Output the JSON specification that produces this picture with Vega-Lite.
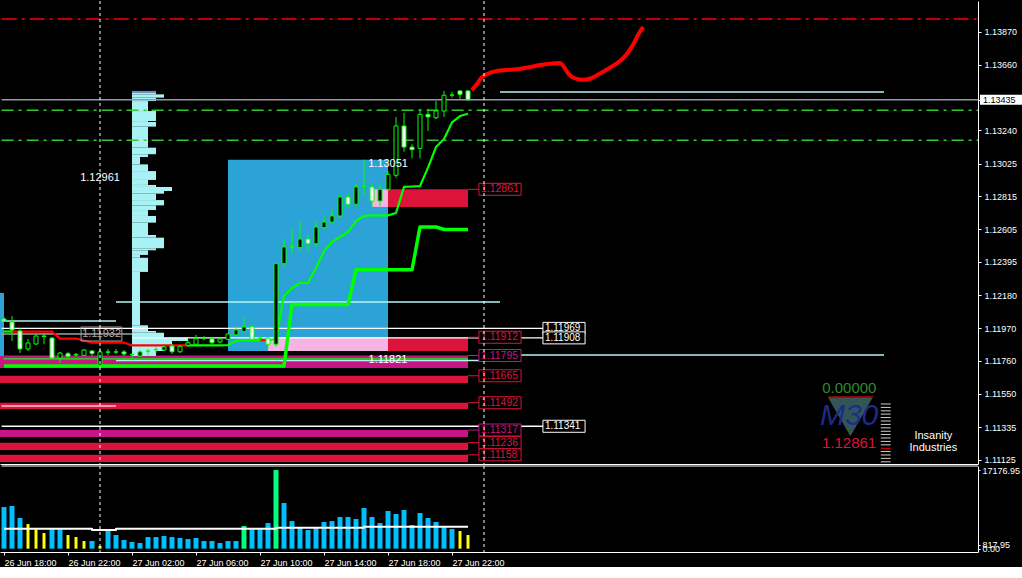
{
"$schema": "https://vega.github.io/schema/vega-lite/v6.json",
"background": "#000000",
"padding": 0,
"config": {"view": {"stroke": null}, "font": "Liberation Sans", "axis": {"grid": false}},
"spacing": 2,
"bounds": "flush",
"resolve": {"scale": {"color": "independent", "stroke": "independent", "strokeDash": "independent", "strokeWidth": "independent", "size": "independent", "fill": "independent"}},
"vconcat": [
{
"width": 978, "height": 463,
"resolve": {"scale": {"color": "independent", "stroke": "independent", "strokeDash": "independent", "strokeWidth": "independent", "size": "independent", "fill": "independent"}, "axis": {"x": "independent", "y": "independent"}},
"layer": [
{
"data": {"values": [
{"t":"2019-06-26T17:45","t2":"2019-06-26T18:00","p":1.12196,"p2":1.11798,"k":"box"},
{"t":"2019-06-26T17:45","t2":"2019-06-26T18:00","p":1.11798,"p2":1.11753,"k":"tan"},
{"t":"2019-06-27T08:00","t2":"2019-06-27T18:00","p":1.13051,"p2":1.11824,"k":"box"},
{"t":"2019-06-27T17:00","t2":"2019-06-27T18:00","p":1.12861,"p2":1.12748,"k":"pink"},
{"t":"2019-06-27T18:00","t2":"2019-06-27T23:00","p":1.12861,"p2":1.12748,"k":"supply"},
{"t":"2019-06-27T10:30","t2":"2019-06-27T18:00","p":1.11912,"p2":1.11824,"k":"pink"},
{"t":"2019-06-27T18:00","t2":"2019-06-27T23:00","p":1.11912,"p2":1.11824,"k":"supply"},
{"t":"2019-06-26T17:45","t2":"2019-06-27T23:00","p":1.11795,"p2":1.11715,"k":"demand"},
{"t":"2019-06-26T17:45","t2":"2019-06-27T23:00","p":1.11665,"p2":1.11619,"k":"supply"},
{"t":"2019-06-26T17:45","t2":"2019-06-27T23:00","p":1.11492,"p2":1.11452,"k":"supply"},
{"t":"2019-06-26T17:45","t2":"2019-06-27T23:00","p":1.11317,"p2":1.11272,"k":"demand"},
{"t":"2019-06-26T17:45","t2":"2019-06-27T23:00","p":1.11236,"p2":1.11189,"k":"supply"},
{"t":"2019-06-26T17:45","t2":"2019-06-27T23:00","p":1.11158,"p2":1.11112,"k":"supply"}
], "format": {"parse": {"t":"date","t2":"date"}}},
"mark": {"type": "rect"},
"encoding": {
"x": {"field":"t","type":"temporal","title":null,"scale":{"type":"time","nice":false,"padding":0,"domain":[{"year":2019,"month":6,"date":26,"hours":17,"minutes":45},{"year":2019,"month":6,"date":29,"hours":6,"minutes":52,"seconds":30}]},"axis":{"orient":"bottom","labels":false,"ticks":false,"domain":true,"domainColor":"#ffffff","grid":false,"title":null}},
"x2": {"field":"t2","title":null},
"y": {"field":"p","type":"quantitative","title":null,"scale":{"domain":[1.110991,1.140688],"zero":false,"nice":false,"padding":0},"axis":{"orient":"right","values":[1.11125,1.11335,1.1155,1.1176,1.1197,1.1218,1.12395,1.12605,1.12815,1.13025,1.1324,1.13435,1.1366,1.1387],"labelExpr":"datum.value === 1.13435 ? '' : format(datum.value, '.5f')","domainColor":"#ffffff","tickColor":"#ffffff","tickSize":3,"labelColor":"#ffffff","labelFont":"Liberation Sans","labelFontSize":9,"labelPadding":3,"labelOverlap":false,"grid":false,"title":null}},
"y2": {"field":"p2","title":null},
"color": {"field":"k","type":"nominal","scale":{"domain":["box","tan","pink","supply","demand"],"range":["#2ba3d6","#e3a35f","#f5b4e4","#dc143c","#c71585"]},"legend":null}
}
},
{
"data": {"values": [
{"t":"2019-06-27T02:00","t2":"2019-06-27T03:30","p":1.13492,"p2":1.13481,"k":"edge"},
{"t":"2019-06-27T02:00","t2":"2019-06-27T03:30","p":1.13481,"p2":1.13470,"k":"body"},
{"t":"2019-06-27T02:00","t2":"2019-06-27T04:00","p":1.13470,"p2":1.13449,"k":"body"},
{"t":"2019-06-27T02:00","t2":"2019-06-27T03:30","p":1.13449,"p2":1.13427,"k":"body"},
{"t":"2019-06-27T02:00","t2":"2019-06-27T03:00","p":1.13427,"p2":1.13363,"k":"body"},
{"t":"2019-06-27T02:00","t2":"2019-06-27T03:30","p":1.13363,"p2":1.13299,"k":"body"},
{"t":"2019-06-27T02:00","t2":"2019-06-27T03:00","p":1.13299,"p2":1.13293,"k":"body"},
{"t":"2019-06-27T02:00","t2":"2019-06-27T03:30","p":1.13293,"p2":1.13263,"k":"body"},
{"t":"2019-06-27T02:00","t2":"2019-06-27T03:00","p":1.13263,"p2":1.13128,"k":"body"},
{"t":"2019-06-27T02:00","t2":"2019-06-27T03:30","p":1.13128,"p2":1.13086,"k":"body"},
{"t":"2019-06-27T02:00","t2":"2019-06-27T03:00","p":1.13086,"p2":1.13068,"k":"body"},
{"t":"2019-06-27T02:00","t2":"2019-06-27T02:30","p":1.13068,"p2":1.13021,"k":"body"},
{"t":"2019-06-27T02:00","t2":"2019-06-27T03:00","p":1.13021,"p2":1.12978,"k":"body"},
{"t":"2019-06-27T02:00","t2":"2019-06-27T03:30","p":1.12978,"p2":1.12921,"k":"body"},
{"t":"2019-06-27T02:00","t2":"2019-06-27T03:00","p":1.12921,"p2":1.12889,"k":"body"},
{"t":"2019-06-27T02:00","t2":"2019-06-27T03:30","p":1.12889,"p2":1.12876,"k":"body"},
{"t":"2019-06-27T02:00","t2":"2019-06-27T04:30","p":1.12876,"p2":1.12850,"k":"body"},
{"t":"2019-06-27T02:00","t2":"2019-06-27T04:00","p":1.12850,"p2":1.12833,"k":"body"},
{"t":"2019-06-27T02:00","t2":"2019-06-27T03:30","p":1.12833,"p2":1.12792,"k":"body"},
{"t":"2019-06-27T02:00","t2":"2019-06-27T04:00","p":1.12792,"p2":1.12758,"k":"body"},
{"t":"2019-06-27T02:00","t2":"2019-06-27T03:30","p":1.12758,"p2":1.12728,"k":"body"},
{"t":"2019-06-27T02:00","t2":"2019-06-27T03:00","p":1.12728,"p2":1.12690,"k":"body"},
{"t":"2019-06-27T02:00","t2":"2019-06-27T03:30","p":1.12690,"p2":1.12647,"k":"body"},
{"t":"2019-06-27T02:00","t2":"2019-06-27T03:00","p":1.12647,"p2":1.12568,"k":"body"},
{"t":"2019-06-27T02:00","t2":"2019-06-27T03:30","p":1.12568,"p2":1.12551,"k":"body"},
{"t":"2019-06-27T02:00","t2":"2019-06-27T04:00","p":1.12551,"p2":1.12483,"k":"body"},
{"t":"2019-06-27T02:00","t2":"2019-06-27T03:30","p":1.12483,"p2":1.12470,"k":"body"},
{"t":"2019-06-27T02:00","t2":"2019-06-27T03:00","p":1.12470,"p2":1.12440,"k":"body"},
{"t":"2019-06-27T02:00","t2":"2019-06-27T02:30","p":1.12440,"p2":1.12422,"k":"body"},
{"t":"2019-06-27T02:00","t2":"2019-06-27T03:00","p":1.12422,"p2":1.12331,"k":"body"},
{"t":"2019-06-27T02:00","t2":"2019-06-27T02:30","p":1.12331,"p2":1.11989,"k":"body"},
{"t":"2019-06-27T02:00","t2":"2019-06-27T03:00","p":1.11989,"p2":1.11952,"k":"body"},
{"t":"2019-06-27T02:00","t2":"2019-06-27T03:30","p":1.11952,"p2":1.11941,"k":"body"},
{"t":"2019-06-27T02:00","t2":"2019-06-27T04:00","p":1.11941,"p2":1.11909,"k":"body"},
{"t":"2019-06-27T02:00","t2":"2019-06-27T05:30","p":1.11909,"p2":1.11888,"k":"body"},
{"t":"2019-06-27T02:00","t2":"2019-06-27T04:30","p":1.11888,"p2":1.11856,"k":"body"},
{"t":"2019-06-27T02:00","t2":"2019-06-27T04:00","p":1.11856,"p2":1.11824,"k":"body"},
{"t":"2019-06-27T02:00","t2":"2019-06-27T03:30","p":1.11824,"p2":1.11792,"k":"body"}
], "format": {"parse": {"t":"date","t2":"date"}}},
"mark": {"type": "rect"},
"encoding": {
"x": {"field":"t","type":"temporal","axis":null},
"x2": {"field":"t2"},
"y": {"field":"p","type":"quantitative","axis":null},
"y2": {"field":"p2"},
"color": {"field":"k","type":"nominal","scale":{"domain":["edge","body"],"range":["#5f8fe8","#a8f2f5"]},"legend":null}
}
},
{
"data": {"values": [
{"t":"2019-06-26T17:51","t2":"2019-06-29T06:52:30","p":1.13953,"k":"reddd"},
{"t":"2019-06-26T17:51","t2":"2019-06-29T06:52:30","p":1.13368,"k":"greendd"},
{"t":"2019-06-26T17:51","t2":"2019-06-29T06:52:30","p":1.13175,"k":"greendd"},
{"t":"2019-06-26T17:51","t2":"2019-06-29T06:52:30","p":1.13435,"k":"price"},
{"t":"2019-06-28T01:00","t2":"2019-06-29T01:00","p":1.13485,"k":"cyan"},
{"t":"2019-06-27T01:00","t2":"2019-06-28T01:00","p":1.12138,"k":"cyan"},
{"t":"2019-06-27T01:00","t2":"2019-06-28T01:00","p":1.11763,"k":"cyan"},
{"t":"2019-06-28T00:00","t2":"2019-06-29T01:00","p":1.11798,"k":"cyan"},
{"t":"2019-06-26T17:51","t2":"2019-06-27T01:00","p":1.12016,"k":"cyan"},
{"t":"2019-06-26T17:51","t2":"2019-06-28T03:41","p":1.11969,"k":"white"},
{"t":"2019-06-27T02:00","t2":"2019-06-28T03:41","p":1.11908,"k":"white"},
{"t":"2019-06-26T17:51","t2":"2019-06-28T03:41","p":1.11341,"k":"white"},
{"t":"2019-06-26T17:51","t2":"2019-06-27T02:00","p":1.11933,"k":"grey"},
{"t":"2019-06-26T17:51","t2":"2019-06-27T01:00","p":1.11471,"k":"pinkish"},
{"t":"2019-06-26T17:57","t2":"2019-06-27T23:00","p":1.11773,"k":"greenflat"}
], "format": {"parse": {"t":"date","t2":"date"}}},
"mark": {"type": "rule"},
"encoding": {
"x": {"field":"t","type":"temporal","axis":null},
"x2": {"field":"t2"},
"y": {"field":"p","type":"quantitative","axis":null},
"color": {"field":"k","type":"nominal","scale":{"domain":["reddd","greendd","price","cyan","white","grey","pinkish","greenflat"],"range":["#ff0000","#32c832","#8f9aa5","#b4f4f4","#ffffff","#a0a0a0","#ffc8dc","#00ff00"]},"legend":null},
"strokeDash": {"field":"k","type":"nominal","scale":{"domain":["reddd","greendd","price","cyan","white","grey","pinkish","greenflat"],"range":[[15,5,3,5],[12,5,3,5],[1,0],[1,0],[1,0],[1,0],[1,0],[1,0]]},"legend":null},
"strokeWidth": {"field":"k","type":"nominal","scale":{"domain":["reddd","greendd","price","cyan","white","grey","pinkish","greenflat"],"range":[1.5,1.3,1,1.3,1.5,1,1.5,3]},"legend":null}
}
},
{
"data": {"values": [
{"t":"2019-06-26T18:00","p":1.11728},
{"t":"2019-06-27T11:30","p":1.11728},
{"t":"2019-06-27T12:00","p":1.12122},
{"t":"2019-06-27T15:30","p":1.12122},
{"t":"2019-06-27T16:00","p":1.12345},
{"t":"2019-06-27T19:30","p":1.12345},
{"t":"2019-06-27T20:00","p":1.12619},
{"t":"2019-06-27T21:00","p":1.12619},
{"t":"2019-06-27T21:30","p":1.12603},
{"t":"2019-06-27T23:00","p":1.12603}
], "format": {"parse": {"t":"date"}}},
"mark": {"type":"line","color":"#00ff00","strokeWidth":3.5,"strokeJoin":"round"},
"encoding": {
"x": {"field":"t","type":"temporal","axis":null},
"y": {"field":"p","type":"quantitative","axis":null}
}
},
{
"data": {"values": [
{"t":"2019-06-26T18:00","p":1.11949,"dir":"up","seg":"g1"},
{"t":"2019-06-26T18:30","p":1.11949,"dir":"up","seg":"g1"},
{"t":"2019-06-26T18:30","p":1.11948,"dir":"down","seg":"r1"},
{"t":"2019-06-26T21:00","p":1.11948,"dir":"down","seg":"r1"},
{"t":"2019-06-26T21:30","p":1.11903,"dir":"down","seg":"r1"},
{"t":"2019-06-26T22:30","p":1.11903,"dir":"down","seg":"r1"},
{"t":"2019-06-26T23:00","p":1.11891,"dir":"down","seg":"r1"},
{"t":"2019-06-26T23:30","p":1.11877,"dir":"down","seg":"r1"},
{"t":"2019-06-27T01:30","p":1.11877,"dir":"down","seg":"r1"},
{"t":"2019-06-27T02:00","p":1.11860,"dir":"down","seg":"r1"},
{"t":"2019-06-27T05:30","p":1.11860,"dir":"down","seg":"r1"},
{"t":"2019-06-27T05:30","p":1.11860,"dir":"up","seg":"g2"},
{"t":"2019-06-27T07:30","p":1.11860,"dir":"up","seg":"g2"},
{"t":"2019-06-27T08:00","p":1.11862,"dir":"up","seg":"g2"},
{"t":"2019-06-27T08:30","p":1.11888,"dir":"up","seg":"g2"},
{"t":"2019-06-27T09:00","p":1.11893,"dir":"up","seg":"g2"},
{"t":"2019-06-27T10:00","p":1.11893,"dir":"up","seg":"g2"},
{"t":"2019-06-27T10:00","p":1.11893,"dir":"down","seg":"r2"},
{"t":"2019-06-27T10:30","p":1.11893,"dir":"down","seg":"r2"},
{"t":"2019-06-27T10:30","p":1.11893,"dir":"up","seg":"g3"},
{"t":"2019-06-27T11:00","p":1.11901,"dir":"up","seg":"g3"},
{"t":"2019-06-27T11:30","p":1.12177,"dir":"up","seg":"g3"},
{"t":"2019-06-27T12:00","p":1.12228,"dir":"up","seg":"g3"},
{"t":"2019-06-27T12:30","p":1.12260,"dir":"up","seg":"g3"},
{"t":"2019-06-27T13:00","p":1.12260,"dir":"up","seg":"g3"},
{"t":"2019-06-27T13:30","p":1.12356,"dir":"up","seg":"g3"},
{"t":"2019-06-27T14:00","p":1.12465,"dir":"up","seg":"g3"},
{"t":"2019-06-27T14:30","p":1.12523,"dir":"up","seg":"g3"},
{"t":"2019-06-27T15:00","p":1.12555,"dir":"up","seg":"g3"},
{"t":"2019-06-27T15:30","p":1.12587,"dir":"up","seg":"g3"},
{"t":"2019-06-27T16:00","p":1.12658,"dir":"up","seg":"g3"},
{"t":"2019-06-27T16:30","p":1.12690,"dir":"up","seg":"g3"},
{"t":"2019-06-27T17:00","p":1.12694,"dir":"up","seg":"g3"},
{"t":"2019-06-27T18:00","p":1.12694,"dir":"up","seg":"g3"},
{"t":"2019-06-27T18:30","p":1.12709,"dir":"up","seg":"g3"},
{"t":"2019-06-27T19:00","p":1.12876,"dir":"up","seg":"g3"},
{"t":"2019-06-27T19:30","p":1.12879,"dir":"up","seg":"g3"},
{"t":"2019-06-27T20:00","p":1.12882,"dir":"up","seg":"g3"},
{"t":"2019-06-27T20:30","p":1.13000,"dir":"up","seg":"g3"},
{"t":"2019-06-27T21:00","p":1.13132,"dir":"up","seg":"g3"},
{"t":"2019-06-27T21:30","p":1.13184,"dir":"up","seg":"g3"},
{"t":"2019-06-27T22:00","p":1.13290,"dir":"up","seg":"g3"},
{"t":"2019-06-27T22:30","p":1.13331,"dir":"up","seg":"g3"},
{"t":"2019-06-27T23:00","p":1.13346,"dir":"up","seg":"g3"}
], "format": {"parse": {"t":"date"}}},
"mark": {"type":"line","strokeWidth":2.2,"strokeJoin":"round"},
"encoding": {
"x": {"field":"t","type":"temporal","axis":null},
"y": {"field":"p","type":"quantitative","axis":null},
"detail": {"field":"seg","type":"nominal"},
"color": {"field":"dir","type":"nominal","scale":{"domain":["up","down"],"range":["#00ff00","#ff0000"]},"legend":null}
}
},
{
"data": {"values": [
{"t":"2019-06-26T18:00","o":1.12029,"h":1.12042,"l":1.12010,"c":1.12016},
{"t":"2019-06-26T18:30","o":1.12010,"h":1.12048,"l":1.11888,"c":1.11959},
{"t":"2019-06-26T19:00","o":1.11952,"h":1.11971,"l":1.11811,"c":1.11837},
{"t":"2019-06-26T19:30","o":1.11837,"h":1.11901,"l":1.11824,"c":1.11875},
{"t":"2019-06-26T20:00","o":1.11869,"h":1.11933,"l":1.11862,"c":1.11920},
{"t":"2019-06-26T20:30","o":1.11920,"h":1.11939,"l":1.11869,"c":1.11917},
{"t":"2019-06-26T21:00","o":1.11907,"h":1.11914,"l":1.11773,"c":1.11779},
{"t":"2019-06-26T21:30","o":1.11779,"h":1.11818,"l":1.11747,"c":1.11811},
{"t":"2019-06-26T22:00","o":1.11807,"h":1.11818,"l":1.11779,"c":1.11790},
{"t":"2019-06-26T22:30","o":1.11802,"h":1.11811,"l":1.11785,"c":1.11799},
{"t":"2019-06-26T23:00","o":1.11796,"h":1.11837,"l":1.11792,"c":1.11830},
{"t":"2019-06-26T23:30","o":1.11824,"h":1.11830,"l":1.11792,"c":1.11807},
{"t":"2019-06-27T00:00","o":1.11734,"h":1.11843,"l":1.11730,"c":1.11818},
{"t":"2019-06-27T00:30","o":1.11818,"h":1.11837,"l":1.11798,"c":1.11816},
{"t":"2019-06-27T01:00","o":1.11818,"h":1.11837,"l":1.11805,"c":1.11817},
{"t":"2019-06-27T01:30","o":1.11818,"h":1.11830,"l":1.11792,"c":1.11805},
{"t":"2019-06-27T02:00","o":1.11800,"h":1.11811,"l":1.11779,"c":1.11802},
{"t":"2019-06-27T02:30","o":1.11792,"h":1.11830,"l":1.11785,"c":1.11818},
{"t":"2019-06-27T03:00","o":1.11824,"h":1.11837,"l":1.11798,"c":1.11822},
{"t":"2019-06-27T03:30","o":1.11832,"h":1.11850,"l":1.11811,"c":1.11834},
{"t":"2019-06-27T04:00","o":1.11830,"h":1.11856,"l":1.11824,"c":1.11850},
{"t":"2019-06-27T04:30","o":1.11856,"h":1.11869,"l":1.11805,"c":1.11819},
{"t":"2019-06-27T05:00","o":1.11819,"h":1.11862,"l":1.11811,"c":1.11854},
{"t":"2019-06-27T05:30","o":1.11860,"h":1.11894,"l":1.11850,"c":1.11877},
{"t":"2019-06-27T06:00","o":1.11867,"h":1.11927,"l":1.11860,"c":1.11903},
{"t":"2019-06-27T06:30","o":1.11907,"h":1.11920,"l":1.11893,"c":1.11905},
{"t":"2019-06-27T07:00","o":1.11903,"h":1.11914,"l":1.11869,"c":1.11877},
{"t":"2019-06-27T07:30","o":1.11882,"h":1.11907,"l":1.11875,"c":1.11901},
{"t":"2019-06-27T08:00","o":1.11899,"h":1.11939,"l":1.11894,"c":1.11933},
{"t":"2019-06-27T08:30","o":1.11927,"h":1.11971,"l":1.11920,"c":1.11959},
{"t":"2019-06-27T09:00","o":1.11948,"h":1.12036,"l":1.11941,"c":1.11978},
{"t":"2019-06-27T09:30","o":1.11980,"h":1.11991,"l":1.11888,"c":1.11899},
{"t":"2019-06-27T10:00","o":1.11907,"h":1.11927,"l":1.11888,"c":1.11905},
{"t":"2019-06-27T10:30","o":1.11907,"h":1.11914,"l":1.11843,"c":1.11867},
{"t":"2019-06-27T11:00","o":1.11867,"h":1.12388,"l":1.11850,"c":1.12384},
{"t":"2019-06-27T11:30","o":1.12384,"h":1.12542,"l":1.12358,"c":1.12491},
{"t":"2019-06-27T12:00","o":1.12493,"h":1.12600,"l":1.12446,"c":1.12491},
{"t":"2019-06-27T12:30","o":1.12487,"h":1.12651,"l":1.12465,"c":1.12542},
{"t":"2019-06-27T13:00","o":1.12542,"h":1.12568,"l":1.12461,"c":1.12512},
{"t":"2019-06-27T13:30","o":1.12512,"h":1.12651,"l":1.12491,"c":1.12619},
{"t":"2019-06-27T14:00","o":1.12615,"h":1.12696,"l":1.12606,"c":1.12651},
{"t":"2019-06-27T14:30","o":1.12651,"h":1.12735,"l":1.12645,"c":1.12690},
{"t":"2019-06-27T15:00","o":1.12690,"h":1.12818,"l":1.12679,"c":1.12812},
{"t":"2019-06-27T15:30","o":1.12812,"h":1.12833,"l":1.12743,"c":1.12765},
{"t":"2019-06-27T16:00","o":1.12765,"h":1.12897,"l":1.12760,"c":1.12876},
{"t":"2019-06-27T16:30","o":1.12882,"h":1.13051,"l":1.12818,"c":1.12879},
{"t":"2019-06-27T17:00","o":1.12876,"h":1.12903,"l":1.12748,"c":1.12786},
{"t":"2019-06-27T17:30","o":1.12786,"h":1.12895,"l":1.12754,"c":1.12861},
{"t":"2019-06-27T18:00","o":1.12861,"h":1.12978,"l":1.12850,"c":1.12957},
{"t":"2019-06-27T18:30","o":1.12951,"h":1.13325,"l":1.12935,"c":1.13267},
{"t":"2019-06-27T19:00","o":1.13267,"h":1.13352,"l":1.13102,"c":1.13132},
{"t":"2019-06-27T19:30","o":1.13132,"h":1.13150,"l":1.13060,"c":1.13115},
{"t":"2019-06-27T20:00","o":1.13124,"h":1.13378,"l":1.13060,"c":1.13342},
{"t":"2019-06-27T20:30","o":1.13342,"h":1.13378,"l":1.13235,"c":1.13325},
{"t":"2019-06-27T21:00","o":1.13320,"h":1.13427,"l":1.13310,"c":1.13363},
{"t":"2019-06-27T21:30","o":1.13363,"h":1.13492,"l":1.13325,"c":1.13464},
{"t":"2019-06-27T22:00","o":1.13466,"h":1.13485,"l":1.13449,"c":1.13465},
{"t":"2019-06-27T22:30","o":1.13492,"h":1.13495,"l":1.13438,"c":1.13470},
{"t":"2019-06-27T23:00","o":1.13492,"h":1.13498,"l":1.13430,"c":1.13435}
], "format": {"parse": {"t":"date"}}},
"layer": [
{
"mark": {"type":"rule","color":"#00ff00","strokeWidth":1},
"encoding": {
"x": {"field":"t","type":"temporal","axis":null},
"y": {"field":"l","type":"quantitative","axis":null},
"y2": {"field":"h"}
}
},
{
"mark": {"type":"bar","orient":"vertical","size":4,"stroke":"#00ff00","strokeWidth":1},
"encoding": {
"x": {"field":"t","type":"temporal","axis":null},
"y": {"field":"o","type":"quantitative","axis":null},
"y2": {"field":"c"},
"fill": {"condition": {"test":"datum.c > datum.o","value":"#000000"},"value":"#ffffff"}
}
}
]
},
{
"data": {"values": [
{"t":"2019-06-27T23:14","p":1.13496},
{"t":"2019-06-27T23:33","p":1.13535},
{"t":"2019-06-27T23:51","p":1.13577},
{"t":"2019-06-28T00:10","p":1.13599},
{"t":"2019-06-28T00:48","p":1.13620},
{"t":"2019-06-28T01:25","p":1.13626},
{"t":"2019-06-28T02:03","p":1.13631},
{"t":"2019-06-28T02:40","p":1.13641},
{"t":"2019-06-28T03:30","p":1.13658},
{"t":"2019-06-28T04:07","p":1.13667},
{"t":"2019-06-28T04:45","p":1.13671},
{"t":"2019-06-28T04:57","p":1.13652},
{"t":"2019-06-28T05:16","p":1.13603},
{"t":"2019-06-28T05:41","p":1.13573},
{"t":"2019-06-28T06:12","p":1.13564},
{"t":"2019-06-28T06:37","p":1.13570},
{"t":"2019-06-28T07:15","p":1.13603},
{"t":"2019-06-28T07:52","p":1.13641},
{"t":"2019-06-28T08:30","p":1.13684},
{"t":"2019-06-28T08:55","p":1.13727},
{"t":"2019-06-28T09:20","p":1.13791},
{"t":"2019-06-28T09:39","p":1.13855},
{"t":"2019-06-28T09:57","p":1.13902}
], "format": {"parse": {"t":"date"}}},
"mark": {"type":"line","color":"#ff0000","strokeWidth":4,"interpolate":"monotone","strokeJoin":"round"},
"encoding": {
"x": {"field":"t","type":"temporal","axis":null},
"y": {"field":"p","type":"quantitative","axis":null}
}
},
{
"data": {"values": [
{"t":"2019-06-27T23:41","t2":"2019-06-28T02:19","tc":"2019-06-27T23:00","p":1.12861,"k":"supply","text":"1.12861"},
{"t":"2019-06-27T23:41","t2":"2019-06-28T02:19","tc":"2019-06-27T23:00","p":1.11912,"k":"supply","text":"1.11912"},
{"t":"2019-06-27T23:41","t2":"2019-06-28T02:19","tc":"2019-06-27T23:00","p":1.11795,"k":"demand","text":"1.11795"},
{"t":"2019-06-27T23:41","t2":"2019-06-28T02:19","tc":"2019-06-27T23:00","p":1.11665,"k":"supply","text":"1.11665"},
{"t":"2019-06-27T23:41","t2":"2019-06-28T02:19","tc":"2019-06-27T23:00","p":1.11492,"k":"supply","text":"1.11492"},
{"t":"2019-06-27T23:41","t2":"2019-06-28T02:19","tc":"2019-06-27T23:00","p":1.11317,"k":"demand","text":"1.11317"},
{"t":"2019-06-27T23:41","t2":"2019-06-28T02:19","tc":"2019-06-27T23:00","p":1.11236,"k":"supply","text":"1.11236"},
{"t":"2019-06-27T23:41","t2":"2019-06-28T02:19","tc":"2019-06-27T23:00","p":1.11158,"k":"supply","text":"1.11158"}
], "format": {"parse": {"t":"date","t2":"date","tc":"date"}}},
"resolve": {"scale": {"color": "independent", "stroke": "independent"}},
"layer": [
{
"mark": {"type":"rule","strokeWidth":1},
"encoding": {
"x": {"field":"tc","type":"temporal","axis":null},
"x2": {"field":"t"},
"y": {"field":"p","type":"quantitative","axis":null},
"color": {"field":"k","type":"nominal","scale":{"domain":["supply","demand"],"range":["#dc143c","#c71585"]},"legend":null}
}
},
{
"mark": {"type":"bar","orient":"horizontal","size":12,"fill":"#000000","strokeWidth":1},
"encoding": {
"x": {"field":"t","type":"temporal","axis":null},
"x2": {"field":"t2"},
"y": {"field":"p","type":"quantitative","axis":null},
"stroke": {"field":"k","type":"nominal","scale":{"domain":["supply","demand"],"range":["#dc143c","#c71585"]},"legend":null}
}
},
{
"mark": {"type":"text","align":"left","baseline":"middle","dx":2,"fontSize":10.5,"font":"Liberation Sans"},
"encoding": {
"x": {"field":"t","type":"temporal","axis":null},
"y": {"field":"p","type":"quantitative","axis":null},
"text": {"field":"text"},
"color": {"field":"k","type":"nominal","scale":{"domain":["supply","demand"],"range":["#dc143c","#c71585"]},"legend":null}
}
}
]
},
{
"data": {"values": [
{"t":"2019-06-28T03:41","t2":"2019-06-28T06:19","p":1.11969,"text":"1.11969"},
{"t":"2019-06-28T03:41","t2":"2019-06-28T06:19","p":1.11908,"text":"1.11908"},
{"t":"2019-06-28T03:41","t2":"2019-06-28T06:19","p":1.11341,"text":"1.11341"}
], "format": {"parse": {"t":"date","t2":"date"}}},
"layer": [
{
"mark": {"type":"bar","orient":"horizontal","size":12,"fill":"#000000","stroke":"#ffffff","strokeWidth":1},
"encoding": {
"x": {"field":"t","type":"temporal","axis":null},
"x2": {"field":"t2"},
"y": {"field":"p","type":"quantitative","axis":null}
}
},
{
"mark": {"type":"text","align":"left","baseline":"middle","dx":2,"fontSize":10,"color":"#ffffff","font":"Liberation Sans"},
"encoding": {
"x": {"field":"t","type":"temporal","axis":null},
"y": {"field":"p","type":"quantitative","axis":null},
"text": {"field":"text"}
}
}
]
},
{
"data": {"values": [
{"t":"2019-06-26T22:49","t2":"2019-06-27T01:22","p":1.11933}
], "format": {"parse": {"t":"date","t2":"date"}}},
"mark": {"type":"bar","orient":"horizontal","size":14,"fill":"#000000","fillOpacity":0,"stroke":"#a0a0a0","strokeWidth":1},
"encoding": {
"x": {"field":"t","type":"temporal","axis":null},
"x2": {"field":"t2"},
"y": {"field":"p","type":"quantitative","axis":null}
}
},
{
"data": {"values": [
{"t":"2019-06-27T00:00","p":1.12933,"text":"1.12961","k":"plain"},
{"t":"2019-06-27T18:00","p":1.13023,"text":"1.13051","k":"plain"},
{"t":"2019-06-27T18:00","p":1.11769,"text":"1.11821","k":"plain"},
{"t":"2019-06-27T00:06","p":1.11933,"text":"1.11932","k":"grey"}
], "format": {"parse": {"t":"date"}}},
"mark": {"type":"text","align":"center","baseline":"middle","fontSize":11,"font":"Liberation Sans"},
"encoding": {
"x": {"field":"t","type":"temporal","axis":null},
"y": {"field":"p","type":"quantitative","axis":null},
"text": {"field":"text"},
"color": {"field":"k","type":"nominal","scale":{"domain":["plain","grey"],"range":["#ffffff","#a9a9a9"]},"legend":null}
}
},
{
"data": {"values": [
{"t":"2019-06-29T07:00","t2":"2019-06-29T09:40","p":1.13435,"text":"1.13435"}
], "format": {"parse": {"t":"date","t2":"date"}}},
"layer": [
{
"mark": {"type":"bar","orient":"horizontal","size":10,"fill":"#ffffff"},
"encoding": {
"x": {"field":"t","type":"temporal","axis":null},
"x2": {"field":"t2"},
"y": {"field":"p","type":"quantitative","axis":null}
}
},
{
"mark": {"type":"text","align":"left","baseline":"middle","dx":3,"fontSize":9,"color":"#000000","font":"Liberation Sans"},
"encoding": {
"x": {"field":"t","type":"temporal","axis":null},
"y": {"field":"p","type":"quantitative","axis":null},
"text": {"field":"text"}
}
}
]
},
{
"data": {"values": [
{"t":"2019-06-27T00:00"},
{"t":"2019-06-28T00:00"}
], "format": {"parse": {"t":"date"}}},
"mark": {"type":"rule","color":"#ffffff","strokeDash":[3,3],"strokeWidth":1},
"encoding": {
"x": {"field":"t","type":"temporal","axis":null}
}
},
{
"data": {"values": [
{"t":"2019-06-29T00:48","t2":"2019-06-29T01:25","p":1.11484,"k":"off"},
{"t":"2019-06-29T00:48","t2":"2019-06-29T01:25","p":1.11462,"k":"off"},
{"t":"2019-06-29T00:48","t2":"2019-06-29T01:25","p":1.11440,"k":"off"},
{"t":"2019-06-29T00:48","t2":"2019-06-29T01:25","p":1.11419,"k":"off"},
{"t":"2019-06-29T00:48","t2":"2019-06-29T01:25","p":1.11397,"k":"off"},
{"t":"2019-06-29T00:48","t2":"2019-06-29T01:25","p":1.11375,"k":"off"},
{"t":"2019-06-29T00:48","t2":"2019-06-29T01:25","p":1.11353,"k":"off"},
{"t":"2019-06-29T00:48","t2":"2019-06-29T01:25","p":1.11331,"k":"off"},
{"t":"2019-06-29T00:48","t2":"2019-06-29T01:25","p":1.11309,"k":"off"},
{"t":"2019-06-29T00:48","t2":"2019-06-29T01:25","p":1.11288,"k":"off"},
{"t":"2019-06-29T00:48","t2":"2019-06-29T01:25","p":1.11266,"k":"off"},
{"t":"2019-06-29T00:48","t2":"2019-06-29T01:25","p":1.11244,"k":"off"},
{"t":"2019-06-29T00:48","t2":"2019-06-29T01:25","p":1.11222,"k":"off"},
{"t":"2019-06-29T00:48","t2":"2019-06-29T01:25","p":1.11200,"k":"on"},
{"t":"2019-06-29T00:48","t2":"2019-06-29T01:25","p":1.11179,"k":"off"},
{"t":"2019-06-29T00:48","t2":"2019-06-29T01:25","p":1.11157,"k":"off"},
{"t":"2019-06-29T00:48","t2":"2019-06-29T01:25","p":1.11135,"k":"off"},
{"t":"2019-06-29T00:48","t2":"2019-06-29T01:25","p":1.11113,"k":"off"},
{"t":"2019-06-28T21:30","t2":"2019-06-29T00:19","p":1.11529,"k":"on"}
], "format": {"parse": {"t":"date","t2":"date"}}},
"mark": {"type":"rule","strokeWidth":1},
"encoding": {
"x": {"field":"t","type":"temporal","axis":null},
"x2": {"field":"t2"},
"y": {"field":"p","type":"quantitative","axis":null},
"color": {"field":"k","type":"nominal","scale":{"domain":["off","on"],"range":["#d0d0d0","#ff0000"]},"legend":null}
}
},
{
"data": {"values": [
{"t":"2019-06-28T22:54","p":1.11401}
], "format": {"parse": {"t":"date"}}},
"mark": {"type":"point","shape":"triangle-down","size":2000,"filled":true,"color":"#325656","opacity":1},
"encoding": {
"x": {"field":"t","type":"temporal","axis":null},
"y": {"field":"p","type":"quantitative","axis":null}
}
},
{
"data": {"values": [
{"t":"2019-06-28T22:49","p":1.11407,"text":"M30"}
], "format": {"parse": {"t":"date"}}},
"mark": {"type":"text","align":"center","baseline":"middle","fontSize":30,"fontStyle":"italic","color":"#1c2c8c","font":"Liberation Sans"},
"encoding": {
"x": {"field":"t","type":"temporal","axis":null},
"y": {"field":"p","type":"quantitative","axis":null},
"text": {"field":"text"}
}
},
{
"data": {"values": [
{"t":"2019-06-28T22:50","p":1.11589,"text":"0.00000","k":"score"},
{"t":"2019-06-28T22:49","p":1.11234,"text":"1.12861","k":"level"}
], "format": {"parse": {"t":"date"}}},
"mark": {"type":"text","align":"center","baseline":"middle","font":"Liberation Sans","fontSize":15},
"encoding": {
"x": {"field":"t","type":"temporal","axis":null},
"y": {"field":"p","type":"quantitative","axis":null},
"text": {"field":"text"},
"color": {"field":"k","type":"nominal","scale":{"domain":["score","level"],"range":["#2e8b2e","#dc143c"]},"legend":null}
}
},
{
"data": {"values": [
{"t":"2019-06-29T04:05","p":1.11280,"text":"Insanity\nIndustries"}
], "format": {"parse": {"t":"date"}}},
"mark": {"type":"text","align":"center","baseline":"middle","font":"Liberation Sans","fontSize":11,"lineBreak":"\n","lineHeight":12,"color":"#ffffff"},
"encoding": {
"x": {"field":"t","type":"temporal","axis":null},
"y": {"field":"p","type":"quantitative","axis":null},
"text": {"field":"text"}
}
}
]
},
{
"width": 978, "height": 86,
"resolve": {"scale": {"color": "independent"}},
"layer": [
{
"data": {"values": [
{"t":"2019-06-26T18:00","v":9096,"vk":"normal","avg":4366},
{"t":"2019-06-26T18:30","v":9315,"vk":"normal","avg":4366},
{"t":"2019-06-26T19:00","v":6695,"vk":"normal","avg":4366},
{"t":"2019-06-26T19:30","v":5385,"vk":"low","avg":4366},
{"t":"2019-06-26T20:00","v":4221,"vk":"low","avg":4366},
{"t":"2019-06-26T20:30","v":3420,"vk":"low","avg":4366},
{"t":"2019-06-26T21:00","v":4221,"vk":"normal","avg":4366},
{"t":"2019-06-26T21:30","v":4221,"vk":"normal","avg":4366},
{"t":"2019-06-26T22:00","v":2984,"vk":"low","avg":4366},
{"t":"2019-06-26T22:30","v":2547,"vk":"low","avg":4366},
{"t":"2019-06-26T23:00","v":1674,"vk":"low","avg":4366},
{"t":"2019-06-26T23:30","v":1674,"vk":"normal","avg":4082},
{"t":"2019-06-27T00:00","v":582,"vk":"low","avg":4082},
{"t":"2019-06-27T00:30","v":4075,"vk":"normal","avg":4082},
{"t":"2019-06-27T01:00","v":2984,"vk":"normal","avg":4366},
{"t":"2019-06-27T01:30","v":1892,"vk":"normal","avg":4366},
{"t":"2019-06-27T02:00","v":1455,"vk":"normal","avg":4366},
{"t":"2019-06-27T02:30","v":1237,"vk":"normal","avg":4366},
{"t":"2019-06-27T03:00","v":2547,"vk":"normal","avg":4366},
{"t":"2019-06-27T03:30","v":2547,"vk":"normal","avg":4366},
{"t":"2019-06-27T04:00","v":2765,"vk":"normal","avg":4366},
{"t":"2019-06-27T04:30","v":2547,"vk":"normal","avg":4366},
{"t":"2019-06-27T05:00","v":2329,"vk":"normal","avg":4366},
{"t":"2019-06-27T05:30","v":2110,"vk":"normal","avg":4366},
{"t":"2019-06-27T06:00","v":2329,"vk":"normal","avg":4366},
{"t":"2019-06-27T06:30","v":1674,"vk":"normal","avg":4366},
{"t":"2019-06-27T07:00","v":1674,"vk":"normal","avg":4366},
{"t":"2019-06-27T07:30","v":1237,"vk":"normal","avg":4366},
{"t":"2019-06-27T08:00","v":1674,"vk":"normal","avg":4366},
{"t":"2019-06-27T08:30","v":1674,"vk":"normal","avg":4366},
{"t":"2019-06-27T09:00","v":4948,"vk":"climax","avg":4366},
{"t":"2019-06-27T09:30","v":4221,"vk":"normal","avg":4366},
{"t":"2019-06-27T10:00","v":4221,"vk":"normal","avg":4366},
{"t":"2019-06-27T10:30","v":5603,"vk":"normal","avg":4366},
{"t":"2019-06-27T11:00","v":17176.95,"vk":"climax","avg":4584},
{"t":"2019-06-27T11:30","v":9969,"vk":"normal","avg":4584},
{"t":"2019-06-27T12:00","v":6040,"vk":"normal","avg":4584},
{"t":"2019-06-27T12:30","v":4512,"vk":"normal","avg":4584},
{"t":"2019-06-27T13:00","v":4075,"vk":"normal","avg":4584},
{"t":"2019-06-27T13:30","v":4512,"vk":"normal","avg":4584},
{"t":"2019-06-27T14:00","v":5822,"vk":"normal","avg":4584},
{"t":"2019-06-27T14:30","v":6040,"vk":"normal","avg":4584},
{"t":"2019-06-27T15:00","v":6913,"vk":"normal","avg":4584},
{"t":"2019-06-27T15:30","v":6913,"vk":"normal","avg":4584},
{"t":"2019-06-27T16:00","v":6477,"vk":"normal","avg":4584},
{"t":"2019-06-27T16:30","v":8878,"vk":"normal","avg":4803},
{"t":"2019-06-27T17:00","v":6913,"vk":"normal","avg":4803},
{"t":"2019-06-27T17:30","v":5603,"vk":"normal","avg":4803},
{"t":"2019-06-27T18:00","v":8223,"vk":"normal","avg":4803},
{"t":"2019-06-27T18:30","v":7568,"vk":"normal","avg":4803},
{"t":"2019-06-27T19:00","v":8441,"vk":"normal","avg":4803},
{"t":"2019-06-27T19:30","v":5167,"vk":"normal","avg":4803},
{"t":"2019-06-27T20:00","v":7786,"vk":"normal","avg":4803},
{"t":"2019-06-27T20:30","v":6695,"vk":"normal","avg":4803},
{"t":"2019-06-27T21:00","v":5822,"vk":"normal","avg":4803},
{"t":"2019-06-27T21:30","v":4730,"vk":"normal","avg":4803},
{"t":"2019-06-27T22:00","v":4293,"vk":"normal","avg":4803},
{"t":"2019-06-27T22:30","v":3857,"vk":"low","avg":4803},
{"t":"2019-06-27T23:00","v":2984,"vk":"low","avg":4803}
], "format": {"parse": {"t":"date"}}},
"layer": [
{
"mark": {"type":"bar","orient":"vertical"},
"encoding": {
"x": {"field":"t","type":"temporal","title":null,"scale":{"type":"time","nice":false,"padding":0,"domain":[{"year":2019,"month":6,"date":26,"hours":17,"minutes":45},{"year":2019,"month":6,"date":29,"hours":6,"minutes":52,"seconds":30}]},"axis":{"orient":"bottom","values":[{"year":2019,"month":6,"date":26,"hours":18},{"year":2019,"month":6,"date":26,"hours":22},{"year":2019,"month":6,"date":27,"hours":2},{"year":2019,"month":6,"date":27,"hours":6},{"year":2019,"month":6,"date":27,"hours":10},{"year":2019,"month":6,"date":27,"hours":14},{"year":2019,"month":6,"date":27,"hours":18},{"year":2019,"month":6,"date":27,"hours":22}],"format":"%d %b %H:%M","labelAlign":"left","labelBaseline":"top","labelColor":"#ffffff","labelFont":"Liberation Sans","labelFontSize":9,"labelPadding":3,"labelFlush":false,"labelOverlap":false,"tickColor":"#ffffff","tickSize":3,"domainColor":"#ffffff","grid":false,"title":null}},
"y": {"field":"v","type":"quantitative","title":null,"scale":{"domain":[-720,18050],"zero":false,"nice":false,"padding":0},"axis":{"orient":"right","values":[0,817.95,17176.95],"format":".2f","labelColor":"#ffffff","labelFont":"Liberation Sans","labelFontSize":9,"labelPadding":2,"labelOverlap":false,"tickColor":"#ffffff","tickSize":2,"domainColor":"#ffffff","grid":false,"title":null}},
"y2": {"datum": 0},
"color": {"field":"vk","type":"nominal","scale":{"domain":["normal","low","climax"],"range":["#00bfff","#ffff00","#00ff7f"]},"legend":null},
"size": {"condition": {"test":"datum.vk === 'low'","value":3},"value":5}
}
},
{
"mark": {"type":"line","color":"#ffffff","strokeWidth":2,"interpolate":"step-after","strokeJoin":"round"},
"encoding": {
"x": {"field":"t","type":"temporal","title":null},
"y": {"field":"avg","type":"quantitative","title":null}
}
}
]
},
{
"data": {"values": [
{"t":"2019-06-27T00:00"},
{"t":"2019-06-28T00:00"}
], "format": {"parse": {"t":"date"}}},
"mark": {"type":"rule","color":"#ffffff","strokeDash":[3,3],"strokeWidth":1},
"encoding": {
"x": {"field":"t","type":"temporal","title":null}
}
},
{
"data": {"values": [{"t":"2019-06-26T17:51","t2":"2019-06-29T06:52:30","v":18050}], "format": {"parse": {"t":"date","t2":"date"}}},
"mark": {"type":"rule","color":"#ffffff","strokeWidth":1},
"encoding": {
"x": {"field":"t","type":"temporal","title":null},
"x2": {"field":"t2","title":null},
"y": {"field":"v","type":"quantitative","title":null}
}
}
]
}
]
}
